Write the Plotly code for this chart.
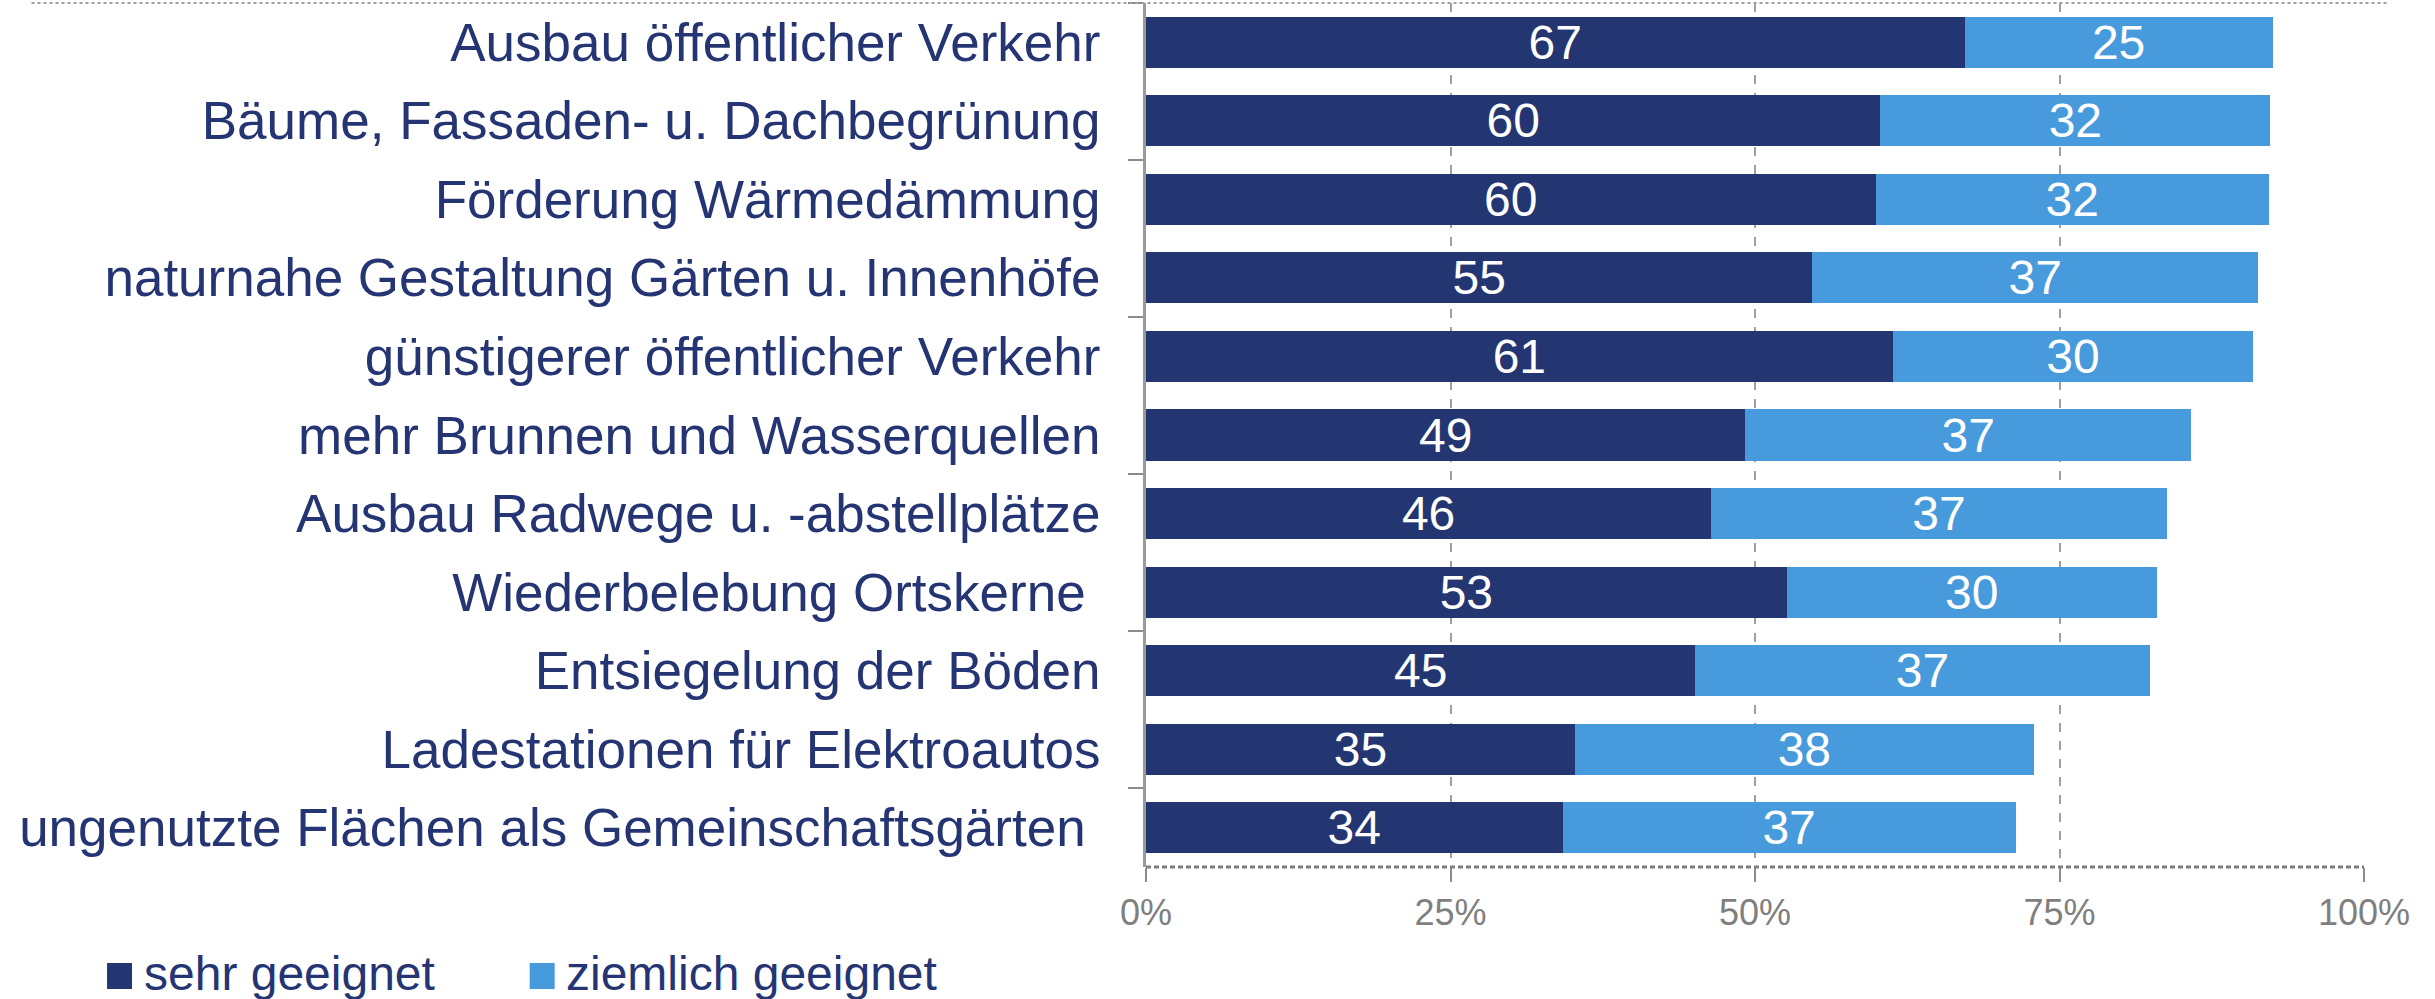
import plotly.graph_objects as go

# measures, top to bottom as in the chart
categories = [
    "Ausbau öffentlicher Verkehr",
    "Bäume, Fassaden- u. Dachbegrünung",
    "Förderung Wärmedämmung",
    "naturnahe Gestaltung Gärten u. Innenhöfe",
    "günstigerer öffentlicher Verkehr",
    "mehr Brunnen und Wasserquellen",
    "Ausbau Radwege u. -abstellplätze",
    "Wiederbelebung Ortskerne\u00a0",
    "Entsiegelung der Böden",
    "Ladestationen für Elektroautos",
    "ungenutzte Flächen als Gemeinschaftsgärten\u00a0",
]
sehr_geeignet = [67.2, 60.3, 59.9, 54.7, 61.3, 49.2, 46.4, 52.6, 45.1, 35.2, 34.2]
ziemlich_geeignet = [25.3, 32.0, 32.3, 36.6, 29.6, 36.6, 37.4, 30.4, 37.3, 37.7, 37.2]
series_names = ["sehr geeignet", "ziemlich geeignet"]
x_ticks = [0, 25, 50, 75, 100]
x_ticktext = ["0%", "25%", "50%", "75%", "100%"]

navy = "#243671"
light = "#479ADB"
text_col = "#253573"
grey = "#8c8c8c"
font = "Liberation Sans, Arial, sans-serif"

pos = list(range(len(categories)))

fig = go.Figure()
for name, vals, col in zip(series_names, [sehr_geeignet, ziemlich_geeignet], [navy, light]):
    fig.add_trace(
        go.Bar(
            y=pos,
            x=vals,
            name=name,
            orientation="h",
            marker_color=col,
            marker_line_width=0,
            text=vals,
            texttemplate="%{x:.0f}",
            textposition="inside",
            insidetextanchor="middle",
            textangle=0,
            textfont=dict(color="white", size=48, family=font),
            hoverinfo="skip",
        )
    )

fig.update_layout(
    width=2435,
    height=999,
    barmode="stack",
    bargap=0.35,
    plot_bgcolor="white",
    paper_bgcolor="white",
    margin=dict(l=1146, r=71, t=3, b=132, autoexpand=False),
    font=dict(family=font, color=text_col),
    uniformtext=dict(minsize=48, mode="show"),
    showlegend=False,
)

fig.update_xaxes(
    range=[0, 100],
    tickvals=x_ticks,
    ticktext=x_ticktext,
    tickfont=dict(size=36, color="#7f7f7f"),
    ticks="outside",
    ticklen=14,
    tickwidth=2,
    tickcolor=grey,
    showgrid=True,
    gridcolor="#a0a0a0",
    gridwidth=2,
    griddash="dash",
    showline=False,
    zeroline=False,
    fixedrange=True,
)

fig.update_yaxes(
    range=[len(categories) - 0.5, -0.5],
    tickvals=pos,
    ticktext=categories,
    tickfont=dict(size=53, color=text_col),
    ticks="",
    ticklabelstandoff=32,
    minor=dict(
        tickvals=[-0.5, 1.5, 3.5, 5.5, 7.5, 9.5],
        ticks="outside",
        ticklen=15,
        tickwidth=2,
        tickcolor=grey,
        showgrid=False,
    ),
    showgrid=False,
    showline=True,
    linecolor="#9a9a9a",
    linewidth=3,
    zeroline=False,
    fixedrange=True,
)

# dashed bottom axis line and dotted border remnant at the top
fig.add_shape(
    type="line", xref="x domain", yref="y domain",
    x0=0, x1=1, y0=0, y1=0,
    line=dict(color="#808080", width=3, dash="5px,3px"),
)
fig.add_shape(
    type="line", xref="paper", yref="paper",
    x0=-0.915, x1=1.021, y0=1, y1=1,
    line=dict(color="#a0a0a0", width=2, dash="dot"),
)

# legend drawn by hand so the colour squares get the reference size
legend_sq_x = [-0.853, -0.506]
legend_txt_x = [-0.824, -0.478]
for name, col, sx, tx in zip(series_names, [navy, light], legend_sq_x, legend_txt_x):
    fig.add_shape(
        type="rect", xref="paper", yref="paper",
        x0=sx, x1=sx + 0.0205, y0=-0.1412, y1=-0.1111,
        fillcolor=col, line_width=0,
    )
    fig.add_annotation(
        xref="paper", yref="paper", x=tx, y=-0.1235,
        xanchor="left", yanchor="middle", showarrow=False,
        text=name, font=dict(size=48, color=text_col, family=font),
    )

fig.write_html(
    "out.html",
    config={"displayModeBar": False},
    post_script="document.body.style.margin='0';",
)
